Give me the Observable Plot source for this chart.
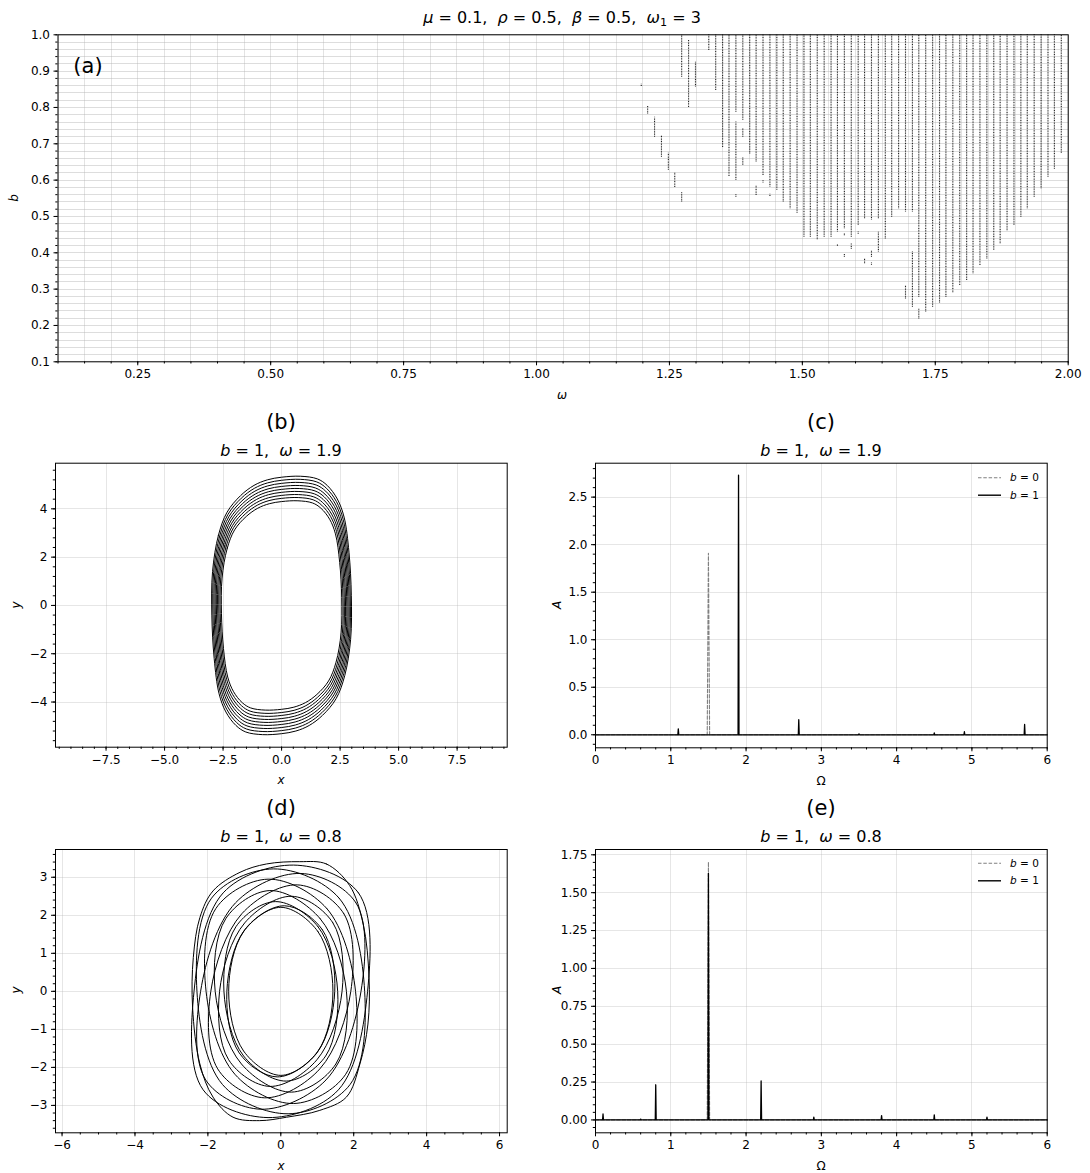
<!DOCTYPE html>
<html><head><meta charset="utf-8">
<script src="https://cdn.jsdelivr.net/npm/d3@7"></script>
<script src="https://cdn.jsdelivr.net/npm/@observablehq/plot@0.6"></script>
<style>
body{margin:0;background:#fff;}
#fig{position:relative;width:1090px;height:1173px;font-family:"DejaVu Sans",sans-serif;color:#000;overflow:hidden;}
.t{position:absolute;transform:translate(-50%,-50%);white-space:nowrap;line-height:1;}
.t i{font-style:italic;}
sub{font-size:0.7em;vertical-align:-0.25em;line-height:0;}
</style></head><body><div id="fig"></div>
<script>
// ---------- (a) region map: dotted columns [omega, bLow, bHigh] ----------
const mapOmega = [1.197,1.209,1.222,1.235,1.248,1.260,1.273,1.273,1.286,1.299,1.324,1.337,1.350,1.362,
  1.375,1.375,1.375,1.388,1.388,1.388,1.401,1.413,1.413,1.426,1.426,1.439,1.439,1.452,1.464,1.477,1.490,
  1.503,1.515,1.528,1.541,1.554,1.566,1.566,1.579,1.579,1.579,1.592,1.592,1.605,1.605,1.617,1.617,
  1.630,1.630,1.630,1.643,1.643,1.656,1.668,1.681,1.694,1.694,1.707,1.707,1.719,1.719,1.732,1.745,1.758,
  1.770,1.783,1.796,1.809,1.821,1.834,1.847,1.860,1.872,1.885,1.898,1.911,1.923,1.936,1.949,1.962,1.974,1.987];
const mapBLow = [0.858,0.782,0.718,0.663,0.627,0.580,0.883,0.540,0.800,0.856,0.957,0.847,0.690,0.610,
  0.787,0.600,0.553,0.765,0.718,0.640,0.672,0.650,0.558,0.613,0.592,0.581,0.555,0.572,0.540,0.521,0.509,
  0.443,0.443,0.436,0.443,0.443,0.457,0.417,0.466,0.447,0.388,0.443,0.410,0.475,0.451,0.494,0.370,
  0.490,0.388,0.366,0.494,0.402,0.438,0.498,0.521,0.512,0.273,0.512,0.250,0.278,0.218,0.237,0.250,0.262,
  0.278,0.290,0.310,0.324,0.342,0.365,0.383,0.406,0.425,0.461,0.475,0.498,0.521,0.553,0.576,0.608,0.630,0.673];
const mapBHigh = [0.864,0.805,0.773,0.723,0.674,0.619,1.0,0.567,0.984,0.925,1.0,1.0,1.0,1.0,
  1.0,0.760,0.560,1.0,0.742,0.663,1.0,1.0,0.585,1.0,0.598,1.0,0.561,1.0,1.0,1.0,1.0,
  1.0,1.0,1.0,1.0,1.0,1.0,0.423,1.0,0.453,0.397,1.0,0.425,1.0,0.457,1.0,0.384,
  1.0,0.406,0.372,1.0,0.457,1.0,1.0,1.0,1.0,0.310,1.0,0.402,1.0,0.246,1.0,1.0,1.0,
  1.0,1.0,1.0,1.0,1.0,1.0,1.0,1.0,1.0,1.0,1.0,1.0,1.0,1.0,1.0,1.0,1.0,1.0];

// ---------- (b) phase portrait b=1, w=1.9: outer loop shape and loop scales ----------
const orbitBx = [-2.95,-2.70,-2.33,-1.75,-1.18,-0.61,0.00,0.81,1.53,1.95,2.38,2.67,2.88,2.98,
                  2.95,2.70,2.33,1.75,1.18,0.61,0.00,-0.81,-1.53,-1.95,-2.38,-2.67,-2.88,-2.98];
const orbitBy = [1.40,2.90,3.86,4.55,4.97,5.20,5.31,5.35,5.24,4.97,4.41,3.66,2.20,0.40,
                 -1.40,-2.90,-3.86,-4.55,-4.97,-5.20,-5.31,-5.35,-5.24,-4.97,-4.41,-3.66,-2.20,-0.40];
const orbitBScaleX = [1.000,0.984,0.967,0.950,0.933,0.915,0.898,0.880,0.862];
const orbitBScaleY = [1.000,0.976,0.952,0.928,0.905,0.882,0.858,0.835,0.810];

// ---------- (d) phase portrait b=1, w=0.8: loops of control points ----------
const orbitD = [
  [[0.52,3.41],[1.25,3.35],[1.89,2.78],[2.26,1.77],[2.42,0.37],[2.39,-0.86],[2.17,-1.91],[1.80,-2.78],[1.07,-3.13],[0.16,-3.31],
   [-0.58,-3.40],[-1.31,-3.31],[-1.86,-2.78],[-2.22,-1.91],[-2.42,-0.42],[-2.40,0.89],[-2.22,1.94],[-1.86,2.64],[-1.12,3.13],[-0.39,3.35]],
  [[0.35,3.32],[2.13,2.59],[2.38,0],[1.58,-2.59],[-0.35,-3.32],[-2.13,-2.59],[-2.38,0],[-1.58,2.59]],
  [[-0.20,3.22],[1.60,2.45],[2.30,0],[1.90,-2.45],[0.20,-3.22],[-1.60,-2.45],[-2.30,0],[-1.90,2.45]],
  [[0.55,3.10],[2.06,2.33],[2.20,0],[1.24,-2.33],[-0.55,-3.10],[-2.06,-2.33],[-2.20,0],[-1.24,2.33]],
  [[-0.35,2.95],[1.26,2.18],[2.05,0],[1.78,-2.18],[0.35,-2.95],[-1.26,-2.18],[-2.05,0],[-1.78,2.18]],
  [[0.45,2.80],[1.73,2.04],[1.92,0],[1.07,-2.04],[-0.45,-2.80],[-1.73,-2.04],[-1.92,0],[-1.07,2.04]],
  [[-0.30,2.65],[1.08,1.91],[1.80,0],[1.51,-1.91],[0.30,-2.65],[-1.08,-1.91],[-1.80,0],[-1.51,1.91]],
  [[0.30,2.50],[1.43,1.80],[1.68,0],[0.99,-1.80],[-0.30,-2.50],[-1.43,-1.80],[-1.68,0],[-0.99,1.80]],
  [[-0.15,2.36],[1.02,1.70],[1.56,0],[1.23,-1.70],[0.15,-2.36],[-1.02,-1.70],[-1.56,0],[-1.23,1.70]],
  [[0.10,2.25],[1.14,1.62],[1.48,0],[0.99,-1.62],[-0.10,-2.25],[-1.14,-1.62],[-1.48,0],[-0.99,1.62]],
  [[0,2.21],[1.02,1.57],[1.43,0],[1.02,-1.57],[0,-2.21],[-1.02,-1.57],[-1.43,0],[-1.02,1.57]]
];

// ---------- (c),(e) amplitude spectra: peak frequencies and amplitudes ----------
const specC_b1_freq = [1.1,1.9,2.7,3.5,4.5,4.9,5.7];
const specC_b1_amp  = [0.063,2.73,0.158,0.01,0.02,0.032,0.109];
const specC_b0_freq = [1.5];
const specC_b0_amp  = [1.91];
const specE_b1_freq = [0.1,0.6,0.8,1.5,2.2,2.9,3.8,4.5,5.2];
const specE_b1_amp  = [0.039,0.005,0.232,1.627,0.257,0.018,0.028,0.033,0.018];
const specE_b0_freq = [1.5];
const specE_b0_amp  = [1.704];
const specRange = [0, 6];
const peakHalfWidthB1 = 0.006;
const peakHalfWidthB0 = 0.016;

// ---------- helpers ----------
const fig = document.getElementById("fig");
const MINUS = "\u2212";
const fmt = (dig) => (d) => (d < 0 ? MINUS : "") + Math.abs(d).toFixed(dig);
const rng = (a, b, s) => d3.range(Math.round(a / s), Math.round(b / s) + 1).map(k => +(k * s).toFixed(6));

function addText(html, x, y, size, rotate) {
  const d = document.createElement("div");
  d.className = "t";
  d.style.left = x + "px"; d.style.top = y + "px"; d.style.fontSize = size + "px";
  if (rotate) d.style.transform = "translate(-50%,-50%) rotate(-90deg)";
  d.innerHTML = html;
  fig.appendChild(d);
}
function place(svg, left, top) {
  svg.style.position = "absolute"; svg.style.left = left + "px"; svg.style.top = top + "px";
  fig.appendChild(svg);
}
function axes(o) {
  return [
    Plot.axisX({ticks: o.xMinor, tickSize: 2.2, tickFormat: () => "", label: null, stroke: "#000"}),
    Plot.axisX({ticks: o.xMajor, tickSize: 4, tickPadding: 4, tickFormat: o.xFmt, label: null, stroke: "#000"}),
    Plot.axisY({ticks: o.yMinor, tickSize: 2.2, tickFormat: () => "", label: null, stroke: "#000"}),
    Plot.axisY({ticks: o.yMajor, tickSize: 4, tickPadding: 4, tickFormat: o.yFmt, label: null, stroke: "#000"})
  ];
}
const style = {fontFamily: "DejaVu Sans, sans-serif", fontSize: "12px", color: "#000", background: "transparent", overflow: "visible"};
function spectrum(freqs, amps, hw) {
  const pts = [{f: specRange[0], a: 0}];
  freqs.forEach((f, i) => { pts.push({f: f - hw, a: 0}, {f, a: amps[i]}, {f: f + hw, a: 0}); });
  pts.push({f: specRange[1], a: 0});
  return pts;
}
function legend(svg, y0) {
  const g = d3.select(svg).append("g").attr("text-anchor", "start");
  g.append("line").attr("x1", 433).attr("x2", 456).attr("y1", y0).attr("y2", y0)
    .attr("stroke", "#808080").attr("stroke-width", 1.1).attr("stroke-dasharray", "3.5,1.8");
  g.append("line").attr("x1", 433).attr("x2", 456).attr("y1", y0 + 17.5).attr("y2", y0 + 17.5)
    .attr("stroke", "#000").attr("stroke-width", 1.4);
  const t = (yy, v) => g.append("text").attr("x", 465).attr("y", yy).attr("dy", "0.35em")
    .attr("text-anchor", "start")
    .attr("font-family", "DejaVu Sans").attr("font-size", 10.5).attr("fill", "#000")
    .html(`<tspan font-style="italic">b</tspan> = ${v}`);
  t(y0, 0); t(y0 + 17.5, 1);
}
const gridStyle = {stroke: "#b0b0b0", strokeOpacity: 0.32, strokeWidth: 1, shapeRendering: "crispEdges"};

// ---------- (a) ----------
const segs = mapOmega.map((w, i) => ({w, lo: mapBLow[i], hi: mapBHigh[i]}));
const svgA = Plot.plot({
  width: 1090, height: 400, marginLeft: 57.5, marginRight: 22.3, marginTop: 34.3, marginBottom: 38.7,
  x: {domain: [0.1, 2.0]}, y: {domain: [0.1, 1.0]}, style,
  marks: [
    Plot.gridY({ticks: rng(0.11, 0.99, 0.02), ...gridStyle, strokeOpacity: 0.18}),
    Plot.gridY({ticks: rng(0.1, 1.0, 0.02), ...gridStyle, strokeOpacity: 0.3}),
    Plot.gridX({ticks: rng(0.1, 2.0, 0.05), ...gridStyle, strokeOpacity: 0.35}),
    Plot.ruleX(segs, {x: "w", y1: "lo", y2: "hi", stroke: "#222", strokeWidth: 1.1, strokeDasharray: "0.9,0.75"}),
    ...axes({xMajor: rng(0.25, 2.0, 0.25), xMinor: rng(0.1, 2.0, 0.05), xFmt: fmt(2),
             yMajor: rng(0.1, 1.0, 0.1), yMinor: rng(0.1, 1.0, 0.02), yFmt: fmt(1)}),
    Plot.frame({stroke: "#000", strokeWidth: 1})
  ]
});
place(svgA, 0, 0);
addText(`<i>μ</i> = 0.1,&nbsp; <i>ρ</i> = 0.5,&nbsp; <i>β</i> = 0.5,&nbsp; <i>ω</i><sub>1</sub> = 3`, 562, 18, 16);
addText("(a)", 88, 66, 21);
addText("<i>ω</i>", 562, 395, 12);
addText("<i>b</i>", 14, 198, 12, true);

// ---------- (b) ----------
const rowsB = [];
orbitBScaleX.forEach((sx, k) => orbitBx.forEach((x, j) => rowsB.push({loop: k, x: x * sx, y: orbitBy[j] * orbitBScaleY[k]})));
const svgB = Plot.plot({
  width: 545, height: 320, marginLeft: 55, marginRight: 38.3, marginTop: 7.7, marginBottom: 28.3,
  x: {domain: [-9.66, 9.64]}, y: {domain: [-5.87, 5.89]}, style,
  marks: [
    Plot.gridX({ticks: rng(-7.5, 7.5, 2.5), ...gridStyle}),
    Plot.gridY({ticks: rng(-4, 4, 2), ...gridStyle}),
    Plot.line(rowsB, {x: "x", y: "y", z: "loop", curve: "catmull-rom-closed", stroke: "#000", strokeWidth: 1}),
    ...axes({xMajor: rng(-7.5, 7.5, 2.5), xMinor: rng(-9.5, 9.5, 0.5), xFmt: fmt(1),
             yMajor: rng(-4, 4, 2), yMinor: rng(-5.6, 5.6, 0.4), yFmt: fmt(0)}),
    Plot.frame({stroke: "#000", strokeWidth: 1})
  ]
});
place(svgB, 0, 455);
addText("(b)", 281, 422, 21);
addText("<i>b</i> = 1,&nbsp; <i>ω</i> = 1.9", 281, 451, 16);
addText("<i>x</i>", 281, 780, 12);
addText("<i>y</i>", 16, 605, 12, true);

// ---------- (c) ----------
const svgC = Plot.plot({
  width: 545, height: 320, marginLeft: 50, marginRight: 43.3, marginTop: 7.7, marginBottom: 27.7,
  x: {domain: [0, 6]}, y: {domain: [-0.137, 2.857]}, style,
  marks: [
    Plot.gridX({ticks: rng(0, 6, 1), ...gridStyle}),
    Plot.gridY({ticks: rng(0, 2.5, 0.5), ...gridStyle}),
    Plot.line(spectrum(specC_b0_freq, specC_b0_amp, peakHalfWidthB0), {x: "f", y: "a", stroke: "#808080", strokeWidth: 1.1, strokeDasharray: "3.5,1.8"}),
    Plot.line(spectrum(specC_b1_freq, specC_b1_amp, peakHalfWidthB1), {x: "f", y: "a", stroke: "#000", strokeWidth: 1.3}),
    ...axes({xMajor: rng(0, 6, 1), xMinor: rng(0, 6, 0.2), xFmt: fmt(0),
             yMajor: rng(0, 2.5, 0.5), yMinor: rng(-0.1, 2.8, 0.1), yFmt: fmt(1)}),
    Plot.frame({stroke: "#000", strokeWidth: 1})
  ]
});
legend(svgC, 22.7);
place(svgC, 545, 455);
addText("(c)", 821, 422, 21);
addText("<i>b</i> = 1,&nbsp; <i>ω</i> = 1.9", 821, 451, 16);
addText("Ω", 821, 781, 12);
addText("<i>A</i>", 557, 605, 12, true);

// ---------- (d) ----------
const rowsD = [];
orbitD.forEach((loop, k) => loop.forEach(([x, y]) => rowsD.push({loop: k, x, y})));
const svgD = Plot.plot({
  width: 545, height: 320, marginLeft: 55, marginRight: 38.3, marginTop: 9, marginBottom: 27.7,
  x: {domain: [-6.18, 6.21]}, y: {domain: [-3.72, 3.73]}, style,
  marks: [
    Plot.gridX({ticks: rng(-6, 6, 2), ...gridStyle}),
    Plot.gridY({ticks: rng(-3, 3, 1), ...gridStyle}),
    Plot.line(rowsD, {x: "x", y: "y", z: "loop", curve: "catmull-rom-closed", stroke: "#000", strokeWidth: 1}),
    ...axes({xMajor: rng(-6, 6, 2), xMinor: rng(-6, 6, 0.5), xFmt: fmt(0),
             yMajor: rng(-3, 3, 1), yMinor: rng(-3.6, 3.6, 0.2), yFmt: fmt(0)}),
    Plot.frame({stroke: "#000", strokeWidth: 1})
  ]
});
place(svgD, 0, 840);
addText("(d)", 281, 808, 21);
addText("<i>b</i> = 1,&nbsp; <i>ω</i> = 0.8", 281, 837, 16);
addText("<i>x</i>", 281, 1166, 12);
addText("<i>y</i>", 16, 990, 12, true);

// ---------- (e) ----------
const svgE = Plot.plot({
  width: 545, height: 320, marginLeft: 50, marginRight: 43.3, marginTop: 9, marginBottom: 27.7,
  x: {domain: [0, 6]}, y: {domain: [-0.085, 1.785]}, style,
  marks: [
    Plot.gridX({ticks: rng(0, 6, 1), ...gridStyle}),
    Plot.gridY({ticks: rng(0, 1.75, 0.25), ...gridStyle}),
    Plot.line(spectrum(specE_b0_freq, specE_b0_amp, peakHalfWidthB0), {x: "f", y: "a", stroke: "#808080", strokeWidth: 1.1, strokeDasharray: "3.5,1.8"}),
    Plot.line(spectrum(specE_b1_freq, specE_b1_amp, peakHalfWidthB1), {x: "f", y: "a", stroke: "#000", strokeWidth: 1.3}),
    ...axes({xMajor: rng(0, 6, 1), xMinor: rng(0, 6, 0.2), xFmt: fmt(0),
             yMajor: rng(0, 1.75, 0.25), yMinor: rng(-0.05, 1.75, 0.05), yFmt: fmt(2)}),
    Plot.frame({stroke: "#000", strokeWidth: 1})
  ]
});
legend(svgE, 23.3);
place(svgE, 545, 840);
addText("(e)", 821, 808, 21);
addText("<i>b</i> = 1,&nbsp; <i>ω</i> = 0.8", 821, 837, 16);
addText("Ω", 821, 1166, 12);
addText("<i>A</i>", 557, 990, 12, true);
</script></body></html>
